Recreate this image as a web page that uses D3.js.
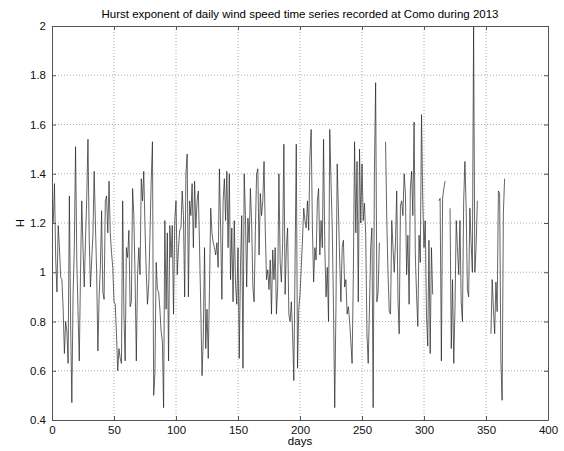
<!DOCTYPE html>
<html>
<head>
<meta charset="utf-8">
<script src="https://cdn.jsdelivr.net/npm/d3@7"></script>
<style>
  body { margin: 0; background: #fff; }
  text { font-family: "Liberation Sans", Arial, sans-serif; }
</style>
</head>
<body>
<div id="chart"></div>
<script>
// Hurst exponent per day (null = missing day)
const hurst = [
  1.20,1.36,1.05,0.92,1.19,1.10,0.98,0.97,0.85,0.67,
  0.80,0.76,0.63,1.31,0.80,0.47,0.91,1.10,1.51,1.05,
  0.84,0.64,1.00,1.29,1.10,0.94,1.13,1.30,1.54,1.14,
  0.94,1.05,1.15,1.41,1.20,1.00,0.68,0.90,1.02,1.25,
  0.92,0.89,1.29,1.31,1.16,1.37,1.16,1.08,1.02,0.88,
  0.87,0.75,0.60,0.69,0.65,0.63,1.29,0.83,0.64,1.10,
  1.06,1.17,0.86,0.88,1.34,1.23,0.98,0.64,0.99,1.10,
  0.99,1.38,1.29,1.41,1.18,1.00,0.87,0.95,1.15,1.37,
  1.53,0.50,0.59,1.04,0.93,0.92,0.85,0.76,0.72,0.45,
  1.21,0.85,1.16,0.64,1.19,1.06,1.19,0.83,1.21,1.29,
  0.99,1.10,1.17,1.18,1.33,1.23,0.90,1.40,1.48,0.90,
  1.29,1.23,1.36,1.10,1.37,1.18,1.29,1.33,1.10,0.85,
  0.58,0.73,1.10,0.69,0.85,0.65,0.93,1.26,1.16,1.12,
  1.10,1.07,1.12,1.02,1.42,1.18,0.89,1.29,1.38,1.21,
  1.41,1.10,1.40,0.97,1.18,0.88,1.21,0.95,0.87,1.10,
  0.65,1.02,1.23,0.61,1.40,1.23,0.94,1.22,1.12,1.34,
  1.20,0.94,0.88,1.17,1.40,1.42,1.07,1.32,1.23,1.29,
  1.45,1.17,0.97,1.01,0.93,1.05,0.83,1.09,0.97,1.10,
  0.83,0.94,1.40,1.04,0.96,1.12,1.52,0.91,1.10,1.18,
  0.83,0.80,0.88,0.76,0.56,1.03,1.52,0.61,0.85,0.91,
  1.02,1.13,1.26,1.21,1.18,1.29,1.17,1.47,1.58,1.18,
  0.96,1.10,1.05,1.29,1.34,1.07,1.21,1.10,1.54,1.10,
  0.90,1.02,0.80,1.58,1.37,1.18,0.86,0.45,0.86,1.44,
  1.25,1.05,0.88,1.10,1.13,0.94,0.97,0.83,0.86,0.80,
  0.72,0.63,0.98,1.53,1.16,1.45,0.88,1.50,1.20,1.44,
  1.21,1.28,1.15,0.75,0.63,0.85,1.10,1.18,0.45,1.40,
  1.77,0.88,0.92,1.12,null,null,null,null,1.53,1.21,
  0.99,0.84,0.83,1.21,1.10,1.00,1.12,1.33,0.89,0.75,
  1.27,1.29,1.23,1.40,1.32,0.99,1.15,0.87,1.34,1.41,
  1.23,1.61,1.07,0.91,0.78,1.15,1.04,1.64,1.29,1.10,
  1.21,0.83,0.70,1.13,0.67,1.10,0.91,null,null,null,
  null,1.29,1.30,0.64,1.30,1.34,1.37,null,null,null,
  1.26,0.69,0.97,0.63,0.86,1.21,1.10,0.99,1.21,0.88,
  0.80,1.29,1.45,1.26,0.93,0.90,1.26,1.12,1.00,2.00,
  1.00,1.10,1.29,null,null,null,null,null,null,null,
  null,null,null,0.75,0.97,0.85,0.75,0.96,0.84,1.33,
  1.32,0.64,0.48,1.24,1.38
];
const days = hurst.map((d, i) => i + 1);
const xTicks = [0, 50, 100, 150, 200, 250, 300, 350, 400];
const yTicks = [0.4, 0.6, 0.8, 1, 1.2, 1.4, 1.6, 1.8, 2];

const W = 564, H = 451;
const margin = {top: 26, right: 16, bottom: 31, left: 52};
const width = W - margin.left - margin.right;
const height = H - margin.top - margin.bottom;

const x = d3.scaleLinear().domain([0, 400]).range([0, width]);
const y = d3.scaleLinear().domain([0.4, 2]).range([height, 0]);

const svg = d3.select("#chart").append("svg")
  .attr("width", W).attr("height", H);

const g = svg.append("g")
  .attr("transform", `translate(${margin.left}, ${margin.top})`);

// dotted grid
g.append("g").selectAll("line")
  .data(xTicks.slice(1, -1))
  .join("line")
  .attr("x1", d => x(d)).attr("x2", d => x(d))
  .attr("y1", 0).attr("y2", height)
  .attr("stroke", "#999").attr("stroke-width", 0.8)
  .attr("stroke-dasharray", "1,2");
g.append("g").selectAll("line")
  .data(yTicks.slice(1, -1))
  .join("line")
  .attr("x1", 0).attr("x2", width)
  .attr("y1", d => y(d)).attr("y2", d => y(d))
  .attr("stroke", "#999").attr("stroke-width", 0.8)
  .attr("stroke-dasharray", "1,2");

// series
const line = d3.line()
  .defined(d => d[1] != null)
  .x(d => x(d[0]))
  .y(d => y(d[1]));
g.append("path")
  .datum(days.map((d, i) => [d, hurst[i]]))
  .attr("fill", "none")
  .attr("stroke", "#222")
  .attr("stroke-width", 0.7)
  .attr("d", line);

// axes (ticks pointing inward, box all round)
const fmt = d => String(d);
const styleAxis = sel => {
  sel.select(".domain").attr("stroke", "#555");
  sel.selectAll(".tick line").attr("stroke", "#555");
  sel.selectAll("text")
    .style("font-size", "11.5px")
    .style("fill", "#111")
    .style("font-family", "'Liberation Sans', Arial, sans-serif");
};
g.append("g")
  .attr("transform", `translate(0, ${height})`)
  .call(d3.axisBottom(x).tickValues(xTicks).tickFormat(fmt).tickSizeInner(-4).tickSizeOuter(0).tickPadding(6))
  .call(styleAxis);
g.append("g")
  .call(d3.axisLeft(y).tickValues(yTicks).tickFormat(fmt).tickSizeInner(-4).tickSizeOuter(0).tickPadding(6))
  .call(styleAxis);
g.append("g")
  .call(d3.axisTop(x).tickValues(xTicks).tickFormat("").tickSizeInner(-4).tickSizeOuter(0))
  .call(styleAxis);
g.append("g")
  .attr("transform", `translate(${width}, 0)`)
  .call(d3.axisRight(y).tickValues(yTicks).tickFormat("").tickSizeInner(-4).tickSizeOuter(0))
  .call(styleAxis);

// labels
svg.append("text")
  .attr("x", margin.left + width / 2).attr("y", 18)
  .attr("text-anchor", "middle")
  .style("font-size", "11.5px")
  .text("Hurst exponent of daily wind speed time series recorded at Como during 2013");
svg.append("text")
  .attr("x", margin.left + width / 2).attr("y", 445)
  .attr("text-anchor", "middle")
  .style("font-size", "11.5px")
  .text("days");
svg.append("text")
  .attr("transform", `translate(24, ${margin.top + height / 2}) rotate(-90)`)
  .attr("text-anchor", "middle")
  .style("font-size", "11.5px")
  .text("H");
</script>
</body>
</html>
